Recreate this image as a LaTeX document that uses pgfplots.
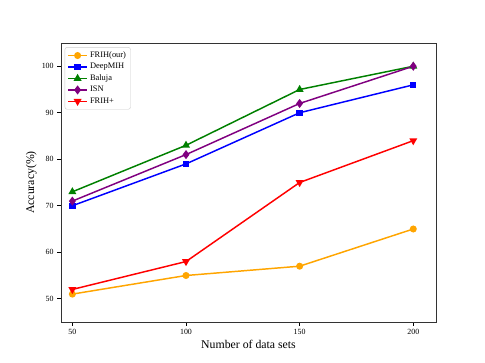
\documentclass[border=0pt]{standalone}
\usepackage{fontspec}
\setmainfont{Liberation Serif}
\usepackage{pgfplots}
\pgfplotsset{compat=1.18}
\definecolor{cOrange}{HTML}{FFA500}
\definecolor{cGreen}{HTML}{008000}
\definecolor{cPurple}{HTML}{800080}
\begin{document}
\begin{tikzpicture}
\path[use as bounding box] (0pt,0pt) rectangle (460.75pt,344.85pt);
\begin{axis}[at={(57.95pt,38.95pt)}, anchor=south west,
  width=356.25pt, height=265.05pt, scale only axis,
  xmin=45, xmax=210, ymin=45, ymax=105,
  xtick={50,100,150,200}, ytick={50,60,...,100},
  tick align=outside, tick pos=left,
  major tick length=3.5pt,
  tick style={black, line width=0.6pt},
  axis line style={black!80, line width=0.8pt},
  tick label style={font=\fontsize{7.5}{8}\selectfont},
  /pgf/number format/assume math mode=true,
  xlabel={Number of data sets}, ylabel={Accuracy(\%)},
  label style={font=\fontsize{11.2}{13}\selectfont},
  xlabel style={yshift=2pt}, ylabel style={yshift=-2pt},
  legend style={at={(rel axis cs:0.01,0.985)}, anchor=north west,
    font=\fontsize{8}{10.5}\selectfont, draw=black!20, rounded corners=2pt,
    row sep=0pt, inner sep=2.2pt},
  legend cell align=left,
  every axis plot/.append style={line width=1.4pt, mark size=2.6pt},
  legend image code/.code={
    \draw[mark repeat=2,mark phase=2] plot coordinates {(0cm,0cm) (0.32cm,0cm) (0.64cm,0cm)};}
]
\addplot[cOrange, mark=*] coordinates {(50,51) (100,55) (150,57) (200,65)};
\addlegendentry{FRIH(our)}
\addplot[blue, mark=square*, mark size=2.3pt] coordinates {(50,70) (100,79) (150,90) (200,96)};
\addlegendentry{DeepMIH}
\addplot[cGreen, mark=triangle*, mark size=3pt] coordinates {(50,73) (100,83) (150,95) (200,100)};
\addlegendentry{Baluja}
\addplot[cPurple, mark=diamond*, mark size=3.2pt] coordinates {(50,71) (100,81) (150,92) (200,100)};
\addlegendentry{ISN}
\addplot[red, mark=triangle*, mark size=3pt, mark options={rotate=180}] coordinates {(50,52) (100,58) (150,75) (200,84)};
\addlegendentry{FRIH+}
\end{axis}
\end{tikzpicture}
\end{document}
